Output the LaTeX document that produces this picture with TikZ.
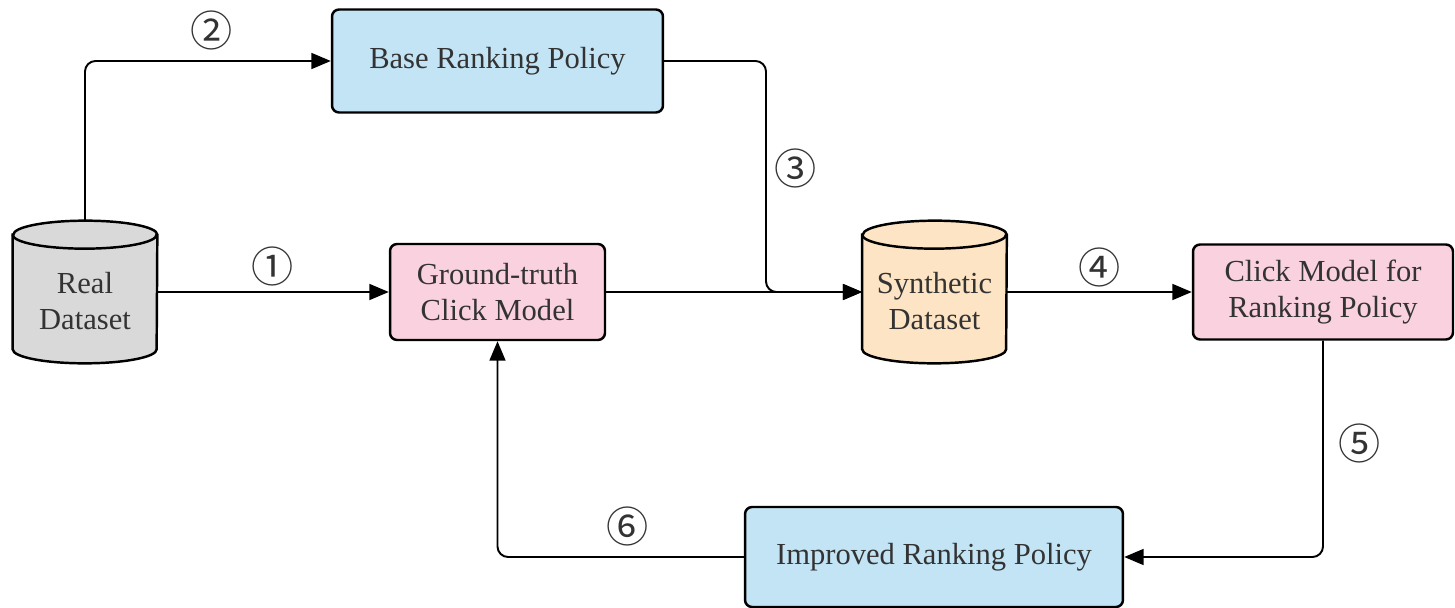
\documentclass[tikz,border=0pt]{standalone}
\usepackage{fontspec}
\setmainfont{Liberation Serif}
\newfontfamily\circfont{Noto Sans CJK SC}
\usetikzlibrary{arrows.meta}
\definecolor{txtc}{HTML}{333333}
\definecolor{grayfill}{HTML}{D9D9D9}
\definecolor{bluefill}{HTML}{C3E4F5}
\definecolor{pinkfill}{HTML}{F9D1DF}
\definecolor{peachfill}{HTML}{FDE4C4}
\tikzset{
  procbox/.style={draw=black,line width=1.4pt,rounded corners=4pt,inner sep=0pt,
    align=center,text=txtc,font=\fontsize{17.4}{21}\selectfont},
  cylbox/.style={inner sep=0pt,minimum width=2.88cm,minimum height=2.84cm},
  cyltext/.style={inner sep=0pt,align=center,text=txtc,font=\fontsize{17.4}{21}\selectfont},
  conn/.style={draw=black,line width=1.1pt,rounded corners=6pt,-{Triangle[length=11pt,width=9pt]}},
  numlbl/.style={inner sep=0pt,text=txtc,font=\circfont\fontsize{24}{24}\selectfont},
}
\newcommand\drawcyl[2]{%
  \path[draw=black,line width=1.4pt,fill=#2]
    ([yshift=-0.28cm]#1.north west) -- ([yshift=0.28cm]#1.south west)
    arc[start angle=180,end angle=360,x radius=1.44cm,y radius=0.28cm]
    -- ([yshift=-0.28cm]#1.north east)
    arc[start angle=0,end angle=180,x radius=1.44cm,y radius=0.28cm] -- cycle;
  \draw[line width=1.4pt] ([yshift=-0.28cm]#1.north west)
    arc[start angle=180,end angle=360,x radius=1.44cm,y radius=0.28cm];}
\begin{document}
\begin{tikzpicture}[x=0.02cm,y=-0.02cm]
\useasboundingbox (0,0) rectangle (1455,608);
% nodes
\node[cylbox] (real) at (85,292) {};
\drawcyl{real}{grayfill}
\node[cyltext] (realtxt) at ([yshift=-0.18cm]real.center) {Real\\Dataset};
\node[cylbox] (syn) at (934.5,292) {};
\drawcyl{syn}{peachfill}
\node[cyltext] (syntxt) at ([yshift=-0.18cm]syn.center) {Synthetic\\Dataset};
\node[procbox,fill=pinkfill,minimum width=4.3cm,minimum height=1.92cm] (gt) at (497.5,292) {Ground-truth\\Click Model};
\node[procbox,fill=bluefill,minimum width=6.62cm,minimum height=2.06cm] (base) at (497.5,61) {Base Ranking Policy};
\node[procbox,fill=pinkfill,minimum width=5.2cm,minimum height=1.9cm] (cmrp) at (1323,292) {Click Model for\\Ranking Policy};
\node[procbox,fill=bluefill,minimum width=7.56cm,minimum height=2.0cm] (imp) at (934,557) {Improved Ranking Policy};
\coordinate (c3) at (766,292);
% connectors
\draw[conn] (real.east) -- (gt.west);
\draw[conn] (real.north) |- (base.west);
\draw[conn] (base.east) -| (c3) -- (syn.west);
\draw[conn] (gt.east) -- (syn.west);
\draw[conn] (syn.east) -- (cmrp.west);
\draw[conn] (cmrp.south) |- (imp.east);
\draw[conn] (imp.west) -| (gt.south);
% labels
\node[numlbl] (n1) at (273,266) {①};
\node[numlbl] (n2) at (212,30) {②};
\node[numlbl] (n3) at (796,168) {③};
\node[numlbl] (n4) at (1100,267) {④};
\node[numlbl] (n5) at (1360,443) {⑤};
\node[numlbl] (n6) at (628,526) {⑥};
\end{tikzpicture}
\end{document}
